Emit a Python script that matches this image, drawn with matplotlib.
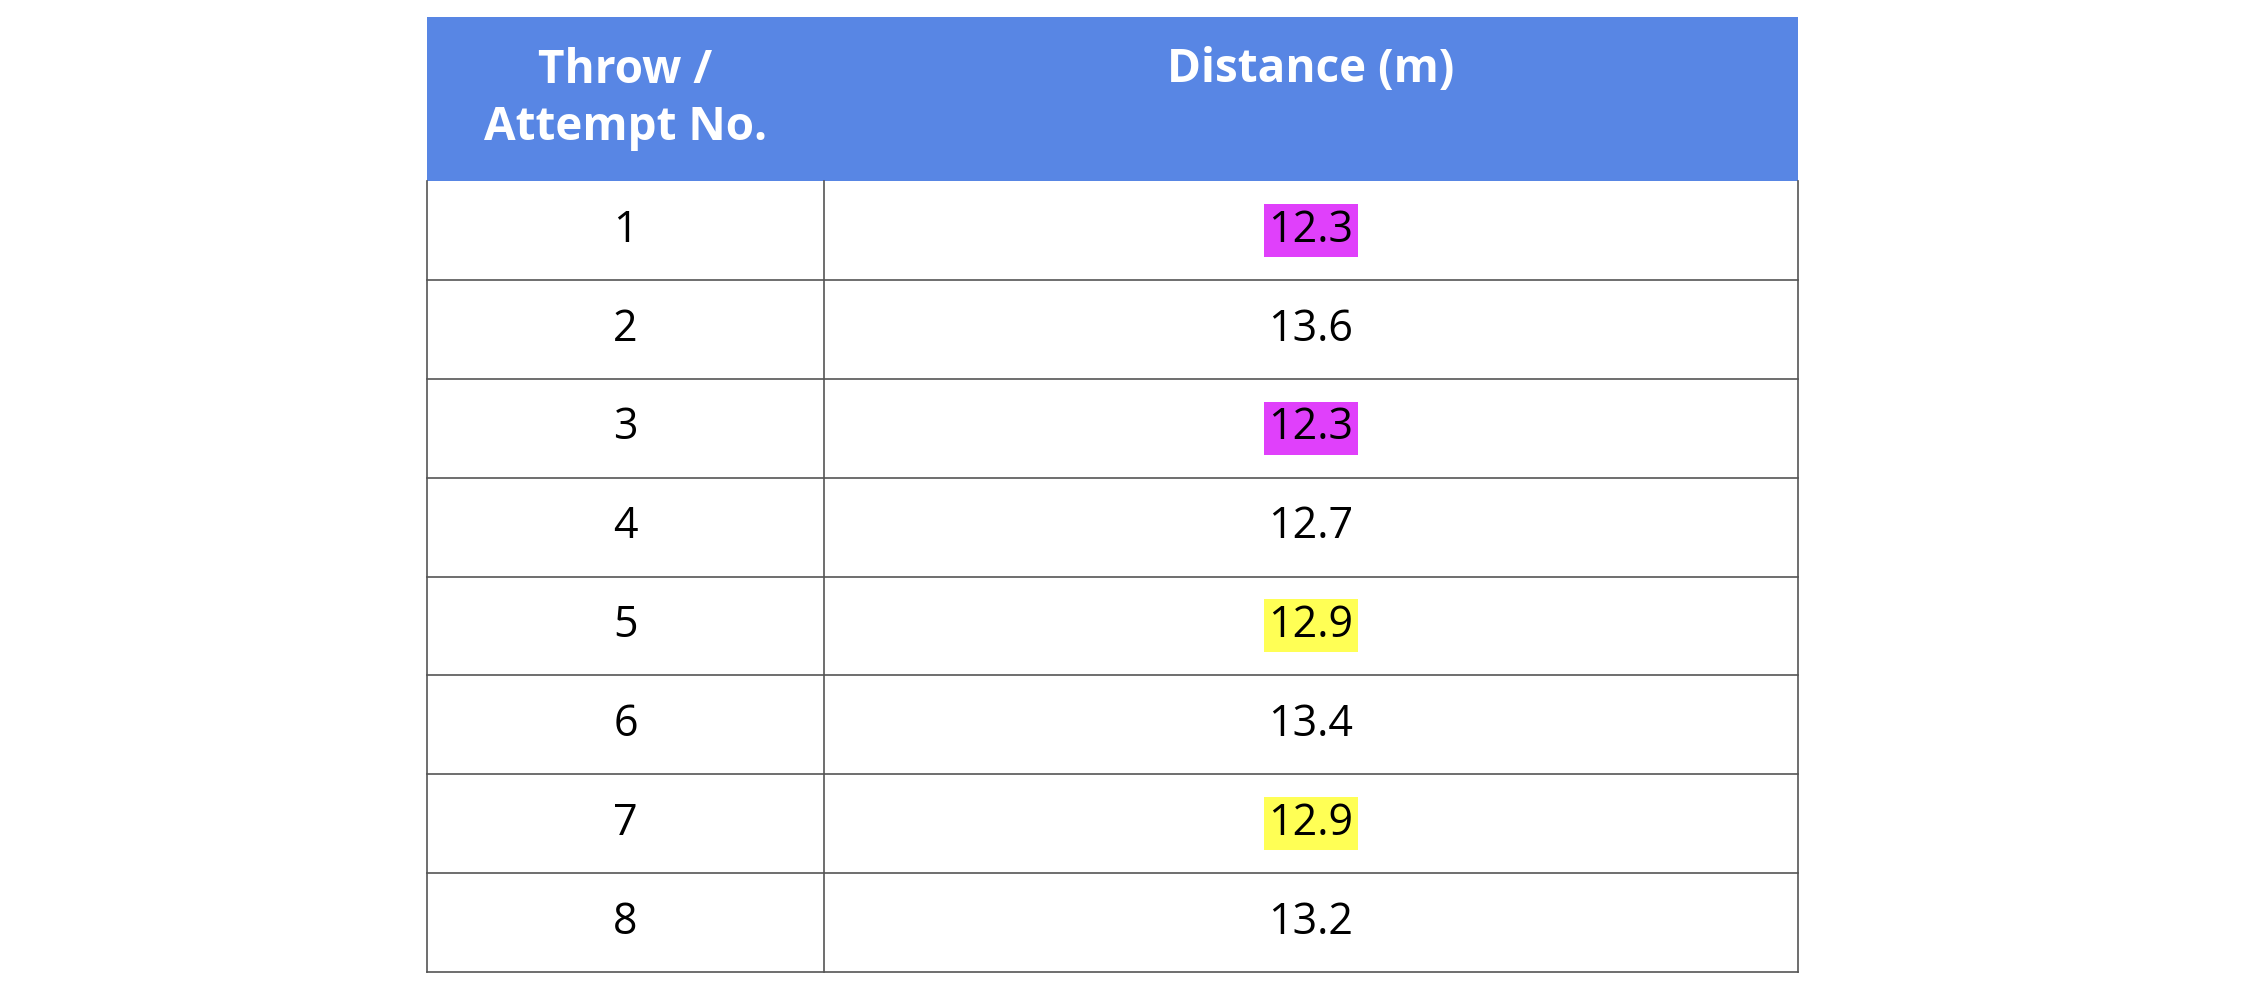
import matplotlib.pyplot as plt
from matplotlib.patches import Rectangle

attempts = ['1', '2', '3', '4', '5', '6', '7', '8']
distances = ['12.3', '13.6', '12.3', '12.7', '12.9', '13.4', '12.9', '13.2']
highlights = ['#E040FB', None, '#E040FB', None, '#FFFF55', None, '#FFFF55', None]
headers = ['Throw /\nAttempt No.', 'Distance (m)']

W, H = 2254, 990
left, mid, right = 427, 824, 1798
top, head_bot, bottom = 17, 181, 972
row_h = (bottom - head_bot) / len(attempts)

fig = plt.figure(figsize=(W / 100, H / 100), dpi=100)
ax = fig.add_axes([0, 0, 1, 1])
ax.set_xlim(0, W)
ax.set_ylim(H, 0)
ax.axis('off')
plt.rcParams['font.family'] = ['Open Sans', 'DejaVu Sans']

ax.add_patch(Rectangle((left, top), right - left, head_bot - top, color='#5886E4', lw=0))
ax.text((left + mid) / 2, (top + head_bot) / 2, headers[0], ha='center', va='center',
        color='white', fontsize=33, fontweight='bold', linespacing=1.3)
ax.text((mid + right) / 2, top + 52, headers[1], ha='center', va='center',
        color='white', fontsize=33, fontweight='bold')

for i, (a, d, hl) in enumerate(zip(attempts, distances, highlights)):
    yc = head_bot + (i + 0.5) * row_h
    ax.text((left + mid) / 2, yc, a, ha='center', va='center', fontsize=31, color='black')
    kw = {}
    if hl:
        kw['bbox'] = dict(facecolor=hl, edgecolor='none', pad=3)
    ax.text((mid + right) / 2, yc, d, ha='center', va='center', fontsize=31, color='black', **kw)
    yb = head_bot + (i + 1) * row_h
    ax.plot([left, right], [yb, yb], color='#555555', lw=1.2)

ax.plot([left, left], [head_bot, bottom], color='#555555', lw=1.2)
ax.plot([right, right], [head_bot, bottom], color='#555555', lw=1.2)
ax.plot([mid, mid], [head_bot, bottom], color='#555555', lw=1.2)

fig.savefig('out.png', dpi=100)
